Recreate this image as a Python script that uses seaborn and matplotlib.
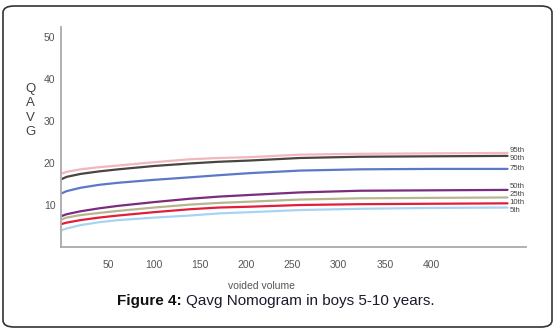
import matplotlib
matplotlib.use("Agg")
import matplotlib.pyplot as plt
from matplotlib.patches import FancyBboxPatch
import seaborn as sns
import pandas as pd

# data
volume = [0, 5, 20, 40, 61, 100, 139, 170, 204, 258, 323, 400, 483]
p95 = [17.5, 17.9, 18.5, 19.0, 19.4, 20.2, 20.9, 21.2, 21.4, 22.0, 22.2, 22.3, 22.4]
p90 = [16.2, 16.7, 17.4, 18.0, 18.5, 19.3, 19.9, 20.3, 20.6, 21.2, 21.5, 21.6, 21.7]
p75 = [12.8, 13.3, 14.1, 14.8, 15.3, 16.0, 16.6, 17.1, 17.6, 18.2, 18.5, 18.6, 18.6]
p50 = [7.4, 7.8, 8.5, 9.2, 9.8, 10.7, 11.5, 12.0, 12.4, 13.0, 13.4, 13.5, 13.6]
p25 = [6.6, 7.0, 7.6, 8.1, 8.6, 9.4, 10.1, 10.5, 10.8, 11.3, 11.6, 11.7, 11.8]
p10 = [5.5, 5.8, 6.4, 7.0, 7.5, 8.3, 9.0, 9.4, 9.6, 10.0, 10.2, 10.3, 10.4]
p5 = [4.0, 4.4, 5.2, 5.9, 6.4, 7.0, 7.5, 8.0, 8.3, 8.8, 9.1, 9.3, 9.4]
percentiles = ["95th", "90th", "75th", "50th", "25th", "10th", "5th"]
series = [p95, p90, p75, p50, p25, p10, p5]
label_y = [22.9, 21.0, 18.6, 14.4, 12.6, 10.7, 8.8]
x_ticks = [50, 100, 150, 200, 250, 300, 350, 400]
y_ticks = [10, 20, 30, 40, 50]

colors = {"95th": "#f2b6bd", "90th": "#4b4541", "75th": "#5c79c9",
          "50th": "#7a2c7e", "25th": "#b8b690", "10th": "#e11f3d",
          "5th": "#a8d4f2"}

rows = []
for name, vals in zip(percentiles, series):
    for xv, yv in zip(volume, vals):
        rows.append({"volume": xv, "qavg": yv, "pct": name})
df = pd.DataFrame(rows)

sns.set_theme(style="white")
plt.rcParams["font.family"] = ["Liberation Sans", "DejaVu Sans"]

fig = plt.figure(figsize=(5.57, 3.35), dpi=100)
ax = fig.add_axes([61/557, 88/335, 465/557, 220/335])

sns.lineplot(data=df, x="volume", y="qavg", hue="pct", palette=colors,
             hue_order=percentiles, linewidth=1.6, legend=False, ax=ax)

ax.set_xlim(-1, 503)
ax.set_ylim(0, 52.4)
ax.set_xticks(x_ticks)
ax.set_yticks(y_ticks)
ax.tick_params(axis="both", length=0, labelsize=7.5, colors="#555555")
ax.tick_params(axis="x", pad=9)
ax.tick_params(axis="y", pad=4)
for s in ["top", "right"]:
    ax.spines[s].set_visible(False)
for s in ["left", "bottom"]:
    ax.spines[s].set_color("#aaaaaa")
    ax.spines[s].set_linewidth(1.3)
ax.set_xlabel("")
ax.set_ylabel("")

for name, ly in zip(percentiles, label_y):
    ax.text(485, ly, name, fontsize=5.6, color="#444444", va="center", ha="left")

# stacked y label
for i, ch in enumerate("QAVG"):
    fig.text(30/557, 1 - (89 + i*14.5)/335, ch, fontsize=9.5, color="#444444",
             ha="center", va="center")

fig.text(262/557, 1 - 286/335, "voided volume", fontsize=7.5, color="#555555",
         ha="center", va="center")

fig.text(117/557, 1 - 301/335, "Figure 4:", fontsize=11, fontweight="bold",
         color="#111111", ha="left", va="center")
fig.text(186/557, 1 - 301/335, "Qavg Nomogram in boys 5-10 years.", fontsize=11,
         color="#1a1a2e", ha="left", va="center")

box = FancyBboxPatch((3/557, 8/335), 549/557, 321/335,
                     boxstyle="round,pad=0,rounding_size=0.02",
                     transform=fig.transFigure, fill=False,
                     edgecolor="#333333", linewidth=1.2)
fig.patches.append(box)

fig.savefig("out.png", dpi=100)
